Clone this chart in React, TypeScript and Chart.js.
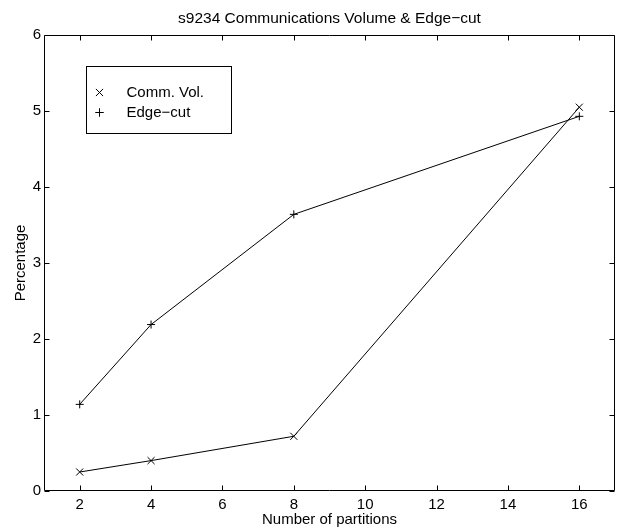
import React, { useEffect, useRef } from "react";
import { Chart, registerables } from "chart.js";
import { drawPoint } from "chart.js/helpers";

Chart.register(...registerables);

const partitions = [2, 4, 8, 16];
const commVol = [0.25, 0.4, 0.72, 5.05];
const edgeCut = [1.14, 2.19, 3.64, 4.93];
const xTickValues = [2, 4, 6, 8, 10, 12, 14, 16];
const yTickValues = [0, 1, 2, 3, 4, 5, 6];
const titleText = "s9234 Communications Volume & Edge\u2212cut";
const xTitle = "Number of partitions";
const yTitle = "Percentage";
const seriesNames = ["Comm. Vol.", "Edge\u2212cut"];

const FONT = "'Liberation Sans', Arial, Helvetica, sans-serif";

const framePlugin = {
  id: "matlabFrame",
  afterDatasetsDraw(chart: any) {
    const { ctx, chartArea } = chart;
    const xs = chart.scales.x;
    const ys = chart.scales.y;
    const L = Math.round(chartArea.left) + 0.5;
    const R = Math.round(chartArea.right) - 0.5;
    const T = Math.round(chartArea.top) + 0.5;
    const B = Math.round(chartArea.bottom) - 0.5;
    const tl = 5;
    ctx.save();
    ctx.strokeStyle = "#000";
    ctx.lineWidth = 1;
    ctx.beginPath();
    ctx.rect(L, T, R - L, B - T);
    ctx.stroke();
    ctx.beginPath();
    for (const v of xTickValues) {
      const px = Math.round(xs.getPixelForValue(v)) + 0.5;
      ctx.moveTo(px, B);
      ctx.lineTo(px, B - tl);
      ctx.moveTo(px, T);
      ctx.lineTo(px, T + tl);
    }
    for (const v of yTickValues) {
      const py = Math.round(ys.getPixelForValue(v)) + 0.5;
      ctx.moveTo(L, py);
      ctx.lineTo(L + tl, py);
      ctx.moveTo(R, py);
      ctx.lineTo(R - tl, py);
    }
    ctx.stroke();

    // title centred over the plot area
    ctx.fillStyle = "#000";
    ctx.font = `15.5px ${FONT}`;
    ctx.textAlign = "center";
    ctx.textBaseline = "middle";
    ctx.fillText(titleText, (chartArea.left + chartArea.right) / 2, chartArea.top - 16);

    // legend box
    const bx = Math.round(chartArea.left + 42) + 0.5;
    const by = Math.round(chartArea.top + 31) + 0.5;
    const bw = 145;
    const bh = 67;
    ctx.fillStyle = "#fff";
    ctx.fillRect(bx, by, bw, bh);
    ctx.strokeRect(bx, by, bw, bh);
    ctx.font = `15px ${FONT}`;
    ctx.fillStyle = "#000";
    ctx.textBaseline = "middle";
    ctx.textAlign = "left";
    chart.data.datasets.forEach((ds: any, i: number) => {
      const cy = by + 26 + i * 20;
      drawPoint(
        ctx,
        { pointStyle: ds.pointStyle, radius: ds.pointRadius, rotation: 0, borderWidth: 1 },
        bx + 13,
        cy
      );
      ctx.strokeStyle = "#000";
      ctx.stroke();
      ctx.fillText(ds.label, bx + 40, cy);
    });
    ctx.restore();
  },
};

export default function App() {
  const ref = useRef<HTMLCanvasElement | null>(null);
  useEffect(() => {
    if (!ref.current) return;
    const mk = (vals: number[]) => partitions.map((x, i) => ({ x, y: vals[i] }));
    const chart = new Chart(ref.current, {
      type: "line",
      data: {
        datasets: [
          {
            label: seriesNames[0],
            data: mk(commVol),
            borderColor: "#000",
            borderWidth: 1,
            pointStyle: "crossRot",
            pointRadius: 5,
            pointBorderColor: "#000",
            pointBorderWidth: 1,
            pointBackgroundColor: "rgba(0,0,0,0)",
            tension: 0,
            fill: false,
          },
          {
            label: seriesNames[1],
            data: mk(edgeCut),
            borderColor: "#000",
            borderWidth: 1,
            pointStyle: "cross",
            pointRadius: 4,
            pointBorderColor: "#000",
            pointBorderWidth: 1,
            pointBackgroundColor: "rgba(0,0,0,0)",
            tension: 0,
            fill: false,
          },
        ],
      },
      options: {
        responsive: false,
        animation: false,
        events: [],
        layout: { padding: { left: 0, right: 3, top: 35, bottom: 0 } },
        plugins: {
          legend: { display: false },
          tooltip: { enabled: false },
          title: { display: false },
        },
        scales: {
          x: {
            type: "linear",
            min: 1,
            max: 17,
            afterBuildTicks: (s: any) => {
              s.ticks = xTickValues.map((v) => ({ value: v }));
            },
            afterFit: (s: any) => {
              s.height = 38;
            },
            grid: { display: false, drawTicks: false },
            border: { display: false },
            ticks: {
              color: "#000",
              font: { family: FONT, size: 15 },
              padding: 5,
              maxRotation: 0,
              autoSkip: false,
            },
            title: {
              display: true,
              text: xTitle,
              color: "#000",
              font: { family: FONT, size: 15 },
              padding: { top: 0, bottom: 0 },
            },
          },
          y: {
            type: "linear",
            min: 0,
            max: 6,
            afterBuildTicks: (s: any) => {
              s.ticks = yTickValues.map((v) => ({ value: v }));
            },
            afterFit: (s: any) => {
              s.width = 44;
            },
            grid: { display: false, drawTicks: false },
            border: { display: false },
            ticks: {
              color: "#000",
              font: { family: FONT, size: 15 },
              padding: 3,
              autoSkip: false,
            },
            title: {
              display: true,
              text: yTitle,
              color: "#000",
              font: { family: FONT, size: 15 },
              padding: { top: 12, bottom: 0 },
            },
          },
        },
      },
      plugins: [framePlugin],
    } as any);
    return () => chart.destroy();
  }, []);
  return (
    <div style={{ position: "fixed", left: 0, top: 0, width: 621, height: 529, background: "#fff" }}>
      <canvas ref={ref} width={621} height={529} style={{ display: "block" }} />
    </div>
  );
}
